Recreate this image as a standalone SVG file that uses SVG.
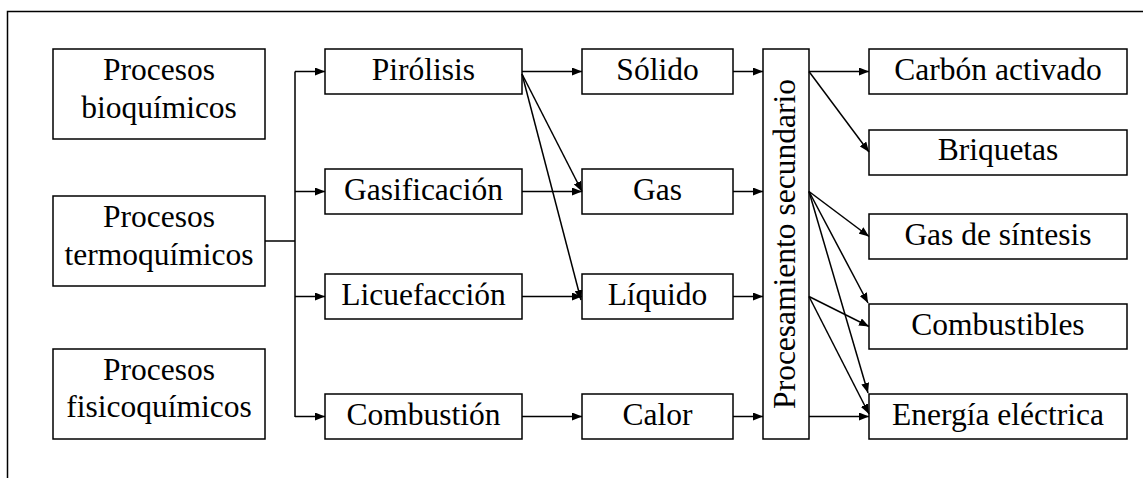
<svg xmlns="http://www.w3.org/2000/svg" width="1143" height="478" viewBox="0 0 1143 478">
  <style>
    .box { fill: #fff; stroke: #000; stroke-width: 1.5; }
    .lbl { font-family: "Liberation Serif", "Times New Roman", serif; font-size: 31.5px; fill: #000; text-anchor: middle; }
    .edge { fill: none; stroke: #000; stroke-width: 1.5; }
    .arr { marker-end: url(#head); }
  </style>
  <defs>
    <marker id="head" viewBox="0 0 10 8" refX="10" refY="4" markerWidth="10" markerHeight="8" markerUnits="userSpaceOnUse" orient="auto">
      <path d="M0,0 L10,4 L0,8 Z" fill="#000"/>
    </marker>
  </defs>

  <rect width="1143" height="478" fill="#fff"/>
  <!-- frame (top and left edges only) -->
  <path d="M1143,11.5 H7.5 V478" class="edge"/>

  <!-- left column -->
  <g id="bioquimicos">
    <rect class="box" x="53" y="49" width="212" height="90"/>
    <text class="lbl" x="159" y="80">Procesos</text>
    <text class="lbl" x="159" y="118">bioquímicos</text>
  </g>
  <g id="termoquimicos">
    <rect class="box" x="53" y="196" width="212" height="90"/>
    <text class="lbl" x="159" y="227">Procesos</text>
    <text class="lbl" x="159" y="265">termoquímicos</text>
  </g>
  <g id="fisicoquimicos">
    <rect class="box" x="53" y="349" width="212" height="90"/>
    <text class="lbl" x="159" y="380">Procesos</text>
    <text class="lbl" x="159" y="417">fisicoquímicos</text>
  </g>

  <!-- processes -->
  <g id="pirolisis">
    <rect class="box" x="325" y="49" width="197" height="45"/>
    <text class="lbl" x="423.5" y="80">Pirólisis</text>
  </g>
  <g id="gasificacion">
    <rect class="box" x="325" y="169" width="197" height="45"/>
    <text class="lbl" x="423.5" y="200">Gasificación</text>
  </g>
  <g id="licuefaccion">
    <rect class="box" x="325" y="274" width="197" height="45"/>
    <text class="lbl" x="423.5" y="305">Licuefacción</text>
  </g>
  <g id="combustion">
    <rect class="box" x="325" y="394" width="197" height="45"/>
    <text class="lbl" x="423.5" y="425">Combustión</text>
  </g>

  <!-- products -->
  <g id="solido">
    <rect class="box" x="582" y="49" width="151" height="45"/>
    <text class="lbl" x="657.5" y="80">Sólido</text>
  </g>
  <g id="gas">
    <rect class="box" x="582" y="169" width="151" height="45"/>
    <text class="lbl" x="657.5" y="200">Gas</text>
  </g>
  <g id="liquido">
    <rect class="box" x="582" y="274" width="151" height="45"/>
    <text class="lbl" x="657.5" y="305">Líquido</text>
  </g>
  <g id="calor">
    <rect class="box" x="582" y="394" width="151" height="45"/>
    <text class="lbl" x="657.5" y="425">Calor</text>
  </g>

  <!-- secondary processing -->
  <g id="procesamiento">
    <rect class="box" x="763" y="49" width="46" height="390"/>
    <text class="lbl" transform="translate(795,244) rotate(-90)" x="0" y="0">Procesamiento secundario</text>
  </g>

  <!-- final uses -->
  <g id="carbon">
    <rect class="box" x="869" y="49" width="258" height="45"/>
    <text class="lbl" x="998" y="80">Carbón activado</text>
  </g>
  <g id="briquetas">
    <rect class="box" x="869" y="130" width="258" height="45"/>
    <text class="lbl" x="998" y="160">Briquetas</text>
  </g>
  <g id="gas-sintesis">
    <rect class="box" x="869" y="214" width="258" height="45"/>
    <text class="lbl" x="998" y="245">Gas de síntesis</text>
  </g>
  <g id="combustibles">
    <rect class="box" x="869" y="304" width="258" height="45"/>
    <text class="lbl" x="998" y="335">Combustibles</text>
  </g>
  <g id="energia">
    <rect class="box" x="869" y="394" width="258" height="45"/>
    <text class="lbl" x="998" y="425">Energía eléctrica</text>
  </g>

  <!-- connectors -->
  <g id="connectors">
    <path class="edge" d="M265,241 H295 M295,71.5 V417"/>
    <path class="edge arr" d="M295,71.5 H325"/>
    <path class="edge arr" d="M295,191.5 H325"/>
    <path class="edge arr" d="M295,296.5 H325"/>
    <path class="edge arr" d="M295,416.5 H325"/>

    <path class="edge arr" d="M522,71.5 H582"/>
    <path class="edge arr" d="M522,74 L582,191.5"/>
    <path class="edge arr" d="M522,74 L581,300"/>
    <path class="edge arr" d="M522,191.5 H582"/>
    <path class="edge arr" d="M522,296.5 H582"/>
    <path class="edge arr" d="M522,416.5 H582"/>

    <path class="edge arr" d="M733,71.5 H763"/>
    <path class="edge arr" d="M733,191.5 H763"/>
    <path class="edge arr" d="M733,296.5 H763"/>
    <path class="edge arr" d="M733,416.5 H763"/>

    <path class="edge arr" d="M809,71.5 H869"/>
    <path class="edge arr" d="M809,71.5 L869,152"/>
    <path class="edge arr" d="M809,191.5 L869,236.5"/>
    <path class="edge arr" d="M809,191.5 L868,303"/>
    <path class="edge arr" d="M809,191.5 L868,393"/>
    <path class="edge arr" d="M809,296.5 L869,326.5"/>
    <path class="edge arr" d="M809,296.5 L869,414"/>
    <path class="edge arr" d="M809,416.5 H869"/>
  </g>
</svg>
